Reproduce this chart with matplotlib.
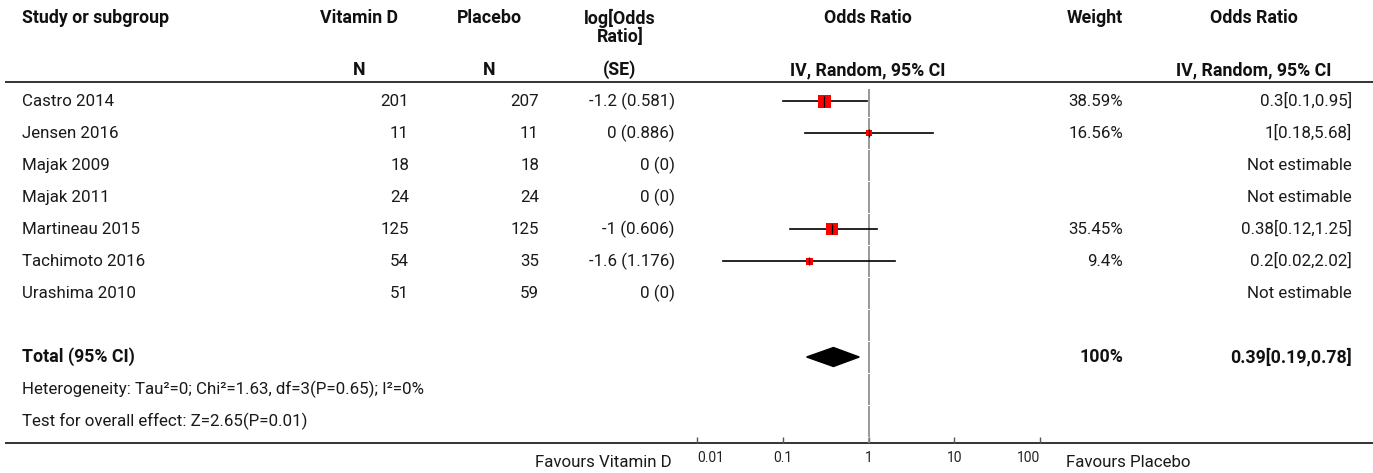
import matplotlib
matplotlib.use("Agg")
import matplotlib.pyplot as plt
from matplotlib.patches import Polygon

plt.rcParams["font.family"] = ["Roboto", "DejaVu Sans"]

# ── data ────────────────────────────────────────────────────────────────────
studies   = ["Castro 2014", "Jensen 2016", "Majak 2009", "Majak 2011",
             "Martineau 2015", "Tachimoto 2016", "Urashima 2010"]
n_vitd    = [201, 11, 18, 24, 125, 54, 51]
n_placebo = [207, 11, 18, 24, 125, 35, 59]
log_or    = [-1.2, 0, 0, 0, -1, -1.6, 0]
log_se    = [0.581, 0.886, 0, 0, 0.606, 1.176, 0]
weights   = [38.59, 16.56, None, None, 35.45, 9.4, None]
or_est    = [0.3, 1, None, None, 0.38, 0.2, None]
ci_lo     = [0.1, 0.18, None, None, 0.12, 0.02, None]
ci_hi     = [0.95, 5.68, None, None, 1.25, 2.02, None]

total_or, total_lo, total_hi = 0.39, 0.19, 0.78
total_weight = 100
heterogeneity = "Heterogeneity: Tau²=0; Chi²=1.63, df=3(P=0.65); I²=0%"
overall_test  = "Test for overall effect: Z=2.65(P=0.01)"
axis_ticks    = [0.01, 0.1, 1, 10, 100]
axis_labels   = ["0.01", "0.1", "1", "10", "100"]

# ── layout (pixel units, figure is 1373 x 473 at dpi 100) ───────────────────
W, H = 1373, 473
ROW0, ROW_H = 101, 32
FS, FS_B = 12.2, 12.8
box_side = [13, 6, 0, 0, 12, 7, 0]          # square size in px, as drawn

X_STUDY = 22
X_VITD, X_VITD_R = 359, 409
X_PLAC, X_PLAC_R = 489, 539
X_LOR, X_LOR_R = 620, 675
X_WT, X_WT_R = 1095, 1123
X_OR2, X_OR2_R = 1254, 1352
FX_L, FX_R = 697, 1040
LINE_TOP, LINE_BOT = 82, 443


def row_y(i):
    return ROW0 + i * ROW_H


fig = plt.figure(figsize=(W / 100, H / 100), dpi=100)
ax = fig.add_axes([0, 0, 1, 1])
ax.set_xlim(0, W); ax.set_ylim(H, 0); ax.axis("off")

fx = fig.add_axes([FX_L / W, (H - LINE_BOT) / H, (FX_R - FX_L) / W, (LINE_BOT - 87) / H])
fx.set_xscale("log")
fx.set_xlim(0.01, 100)
fx.set_ylim(LINE_BOT, 87)
fx.patch.set_alpha(0)
for s in fx.spines.values():
    s.set_visible(False)
fx.set_yticks([])
fx.set_xticks(axis_ticks)
fx.set_xticklabels(axis_labels)
fx.minorticks_off()
fx.tick_params(axis="x", direction="in", length=4, width=1, color="#555555",
               labelsize=10, pad=6, labelcolor="#222222")
tl = fx.get_xticklabels()
tl[0].set_horizontalalignment("left")
tl[-1].set_horizontalalignment("right")

# ── header ──────────────────────────────────────────────────────────────────
hb = dict(fontsize=FS_B, fontweight="bold", va="center", color="#111111")
ax.text(X_STUDY, 18, "Study or subgroup", ha="left", **hb)
ax.text(X_VITD, 18, "Vitamin D", ha="center", **hb)
ax.text(X_PLAC, 18, "Placebo", ha="center", **hb)
ax.text(X_LOR, 18, "log[Odds", ha="center", **hb)
ax.text(X_LOR, 37, "Ratio]", ha="center", **hb)
ax.text(868, 18, "Odds Ratio", ha="center", **hb)
ax.text(X_WT, 18, "Weight", ha="center", **hb)
ax.text(X_OR2, 18, "Odds Ratio", ha="center", **hb)
ax.text(X_VITD, 70, "N", ha="center", **hb)
ax.text(X_PLAC, 70, "N", ha="center", **hb)
ax.text(X_LOR, 70, "(SE)", ha="center", **hb)
ax.text(868, 70, "IV, Random, 95% CI", ha="center", **hb)
ax.text(X_OR2, 70, "IV, Random, 95% CI", ha="center", **hb)

ax.plot([5, W], [LINE_TOP, LINE_TOP], color="#333333", lw=1.4, solid_capstyle="butt")
ax.plot([5, W], [LINE_BOT, LINE_BOT], color="#333333", lw=1.4, solid_capstyle="butt")

# ── study rows ──────────────────────────────────────────────────────────────
tr = dict(fontsize=FS, va="center", color="#1a1a1a")
for i, name in enumerate(studies):
    y = row_y(i)
    ax.text(X_STUDY, y, name, ha="left", **tr)
    ax.text(X_VITD_R, y, f"{n_vitd[i]}", ha="right", **tr)
    ax.text(X_PLAC_R, y, f"{n_placebo[i]}", ha="right", **tr)
    ax.text(X_LOR_R, y, f"{log_or[i]:g} ({log_se[i]:g})", ha="right", **tr)
    if or_est[i] is None:
        ax.text(X_OR2_R, y, "Not estimable", ha="right", **tr)
        continue
    ax.text(X_WT_R, y, f"{weights[i]:g}%", ha="right", **tr)
    ax.text(X_OR2_R, y, f"{or_est[i]:g}[{ci_lo[i]:g},{ci_hi[i]:g}]", ha="right", **tr)
    fx.plot([ci_lo[i], ci_hi[i]], [y, y], color="black", lw=1.2, zorder=3)
    fx.plot(or_est[i], y, marker="s", ms=box_side[i] * 0.72, color="red",
            mec="red", mew=0, zorder=4)
    fx.plot(or_est[i], y, marker="|", ms=max(box_side[i] - 2, 8) * 0.72,
            color="black", mew=0.9, zorder=5)

# ── total ───────────────────────────────────────────────────────────────────
yt = row_y(len(studies) + 1)
ax.text(X_STUDY, yt, "Total (95% CI)", ha="left", **hb)
ax.text(X_WT_R, yt, f"{total_weight}%", ha="right", **hb)
ax.text(X_OR2_R, yt, f"{total_or:g}[{total_lo:g},{total_hi:g}]", ha="right", **hb)
fx.add_patch(Polygon([(total_lo, yt), (total_or, yt - 9.5), (total_hi, yt),
                      (total_or, yt + 9.5)], closed=True, color="black", zorder=4))
ax.text(X_STUDY, yt + ROW_H, heterogeneity, ha="left", **tr)
ax.text(X_STUDY, yt + 2 * ROW_H, overall_test, ha="left", **tr)

# line of no effect, drawn in row segments
bounds = list(range(85, LINE_BOT, ROW_H)) + [LINE_BOT]
bounds[0] = 88
for a, b in zip(bounds[:-1], bounds[1:]):
    fx.plot([1, 1], [a + 1, b], color="#888888", lw=1.2, zorder=2,
            solid_capstyle="butt")

ax.text(672, 462, "Favours Vitamin D", ha="right", va="center", fontsize=FS,
        color="#1a1a1a")
ax.text(1066, 462, "Favours Placebo", ha="left", va="center", fontsize=FS,
        color="#1a1a1a")

fig.savefig("out.png", dpi=100)
